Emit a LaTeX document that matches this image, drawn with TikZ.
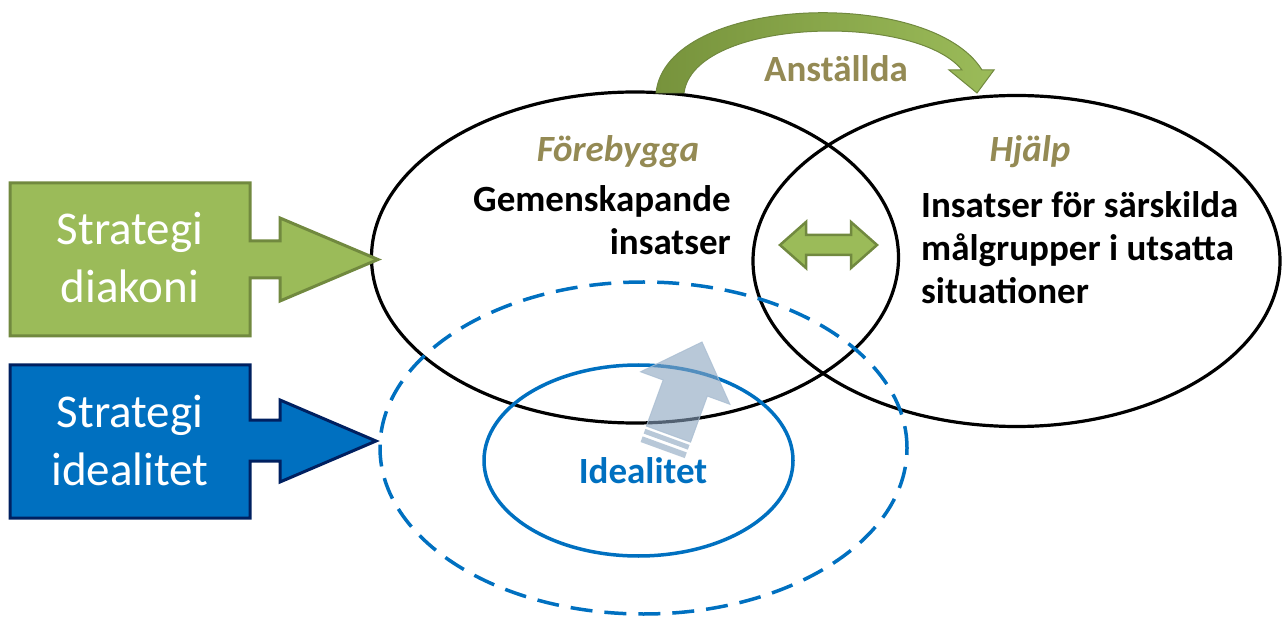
\documentclass[tikz,border=0pt]{standalone}
\usepackage{fontspec}
\setmainfont{Carlito}
\usetikzlibrary{shapes.geometric}
\definecolor{ogreen}{RGB}{155,187,89}
\definecolor{ogreenD}{RGB}{113,137,63}
\definecolor{ogreenDD}{RGB}{119,147,60}
\definecolor{oblue}{RGB}{0,112,192}
\definecolor{onavy}{RGB}{0,32,96}
\definecolor{otan}{RGB}{148,138,84}
\definecolor{garrow}{RGB}{137,163,190}
\definecolor{garrowL}{RGB}{170,190,210}
\begin{document}
\begin{tikzpicture}[x=1pt,y=-1pt,
  venn/.style={draw=black, ellipse, line width=3.2pt, inner sep=0pt, minimum width=527pt, minimum height=331pt},
  bluering/.style={draw=oblue, ellipse, line width=3.5pt, inner sep=0pt},
  lbl/.style={font=\fontsize{37}{43}\selectfont\bfseries, inner sep=0pt},
  headlbl/.style={text=otan, inner sep=0pt, font=\fontsize{37}{43}\selectfont\bfseries\itshape},
  boxtxt/.style={text=white, font=\fontsize{47}{58}\selectfont, align=center, inner sep=0pt},
  greenshape/.style={fill=ogreen, draw=ogreenD, line width=3pt, line join=miter},
  blueshape/.style={fill=oblue, draw=onavy, line width=3pt, line join=miter},
]
\useasboundingbox (0,0) rectangle (1285,617);

% Venn ellipses
\node[venn] (forebygga) at (635,257.5) {};
\node[venn] (hjalp) at (1016.5,261) {};
\node[bluering, dash pattern=on 22pt off 12pt, minimum width=527pt, minimum height=332pt] (idealouter) at (643.5,448) {};
\node[bluering, minimum width=309pt, minimum height=191pt] (idealinner) at (638.5,460.5) {};

% Left strategy callouts
\draw[greenshape] (10,183) -- (250,183) -- (250,241) -- (280,241) -- (280,218) -- (378,259.5)
  -- (280,301) -- (280,278) -- (250,278) -- (250,336) -- (10,336) -- cycle;
\draw[blueshape] (10,365) -- (250,365) -- (250,420) -- (280,420) -- (280,400) -- (376,441)
  -- (280,482) -- (280,461) -- (250,461) -- (250,518) -- (10,518) -- cycle;
\node[boxtxt] (sdtext) at (130,258) {Strategi\\diakoni};
\node[boxtxt] (situxt) at (130,441) {Strategi\\idealitet};

% curved arrow (Anställda)
\path[draw=ogreenD, line width=1pt, left color=ogreenDD, right color=ogreen, line join=miter]
  (656,93) .. controls (666,-5) and (930,-14) .. (982,70) -- (994,70) -- (977,93) -- (949,70) -- (962,70)
  .. controls (915,12) and (694,18) .. (684,93) -- cycle;

% double arrow in the overlap
\draw[fill=ogreen, draw=ogreenD, line width=2.5pt, line join=miter]
  (780,245) -- (806,222) -- (806,235) -- (851,235) -- (851,222) -- (877,245)
  -- (851,268) -- (851,255) -- (806,255) -- (806,268) -- cycle;

% grey striped arrow
\begin{scope}[shift={(702,342)}, rotate=-20]
  \path[fill=garrow, fill opacity=0.6, draw=garrowL, draw opacity=0.8, line width=1pt]
    (0,0) -- (47.5,49) -- (23.5,49) -- (23.5,98) -- (-23.5,98) -- (-23.5,49) -- (-47.5,49) -- cycle;
  \path[fill=garrow, fill opacity=0.6] (-23.5,101) rectangle (23.5,106);
  \path[fill=garrow, fill opacity=0.6] (-23.5,109) rectangle (23.5,115);
\end{scope}

% texts
\node[headlbl, anchor=base] (fbtxt) at (618,162) {Förebygga};
\node[headlbl, anchor=base] (hjtxt) at (1030,162) {Hjälp};
\node[lbl, text=otan, anchor=base] (anst) at (836,82) {Anställda};
\node[lbl, align=right, anchor=base east] (gem) at (731,255) {Gemenskapande\\insatser};
\node[lbl, align=left, anchor=base west] (ins) at (921,304) {Insatser för särskilda\\målgrupper i utsatta\\situationer};
\node[lbl, text=oblue, anchor=base] (idl) at (643,483) {Idealitet};
\end{tikzpicture}
\end{document}
